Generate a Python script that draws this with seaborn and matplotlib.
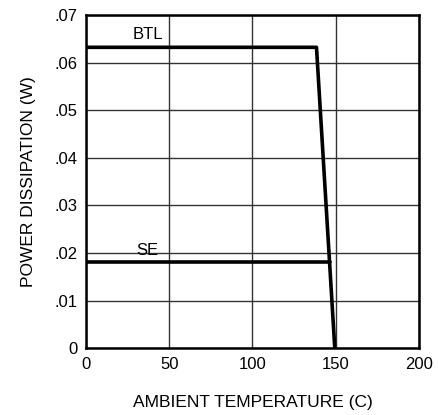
import matplotlib
matplotlib.use("Agg")
import matplotlib.pyplot as plt
import seaborn as sns
import pandas as pd

# Data
btl_temp = [0, 138.5, 149.5]
btl_power = [0.0632, 0.0632, 0.0]
se_temp = [0, 146.4]
se_power = [0.0181, 0.0181]
x_ticks = [0, 50, 100, 150, 200]
y_ticks = [0, 0.01, 0.02, 0.03, 0.04, 0.05, 0.06, 0.07]
y_tick_labels = ["0", ".01", ".02", ".03", ".04", ".05", ".06", ".07"]

sns.set_style("white")
plt.rcParams['font.family'] = ['Liberation Sans', 'DejaVu Sans']
plt.rcParams['text.color'] = 'black'
plt.rcParams['axes.labelcolor'] = 'black'
plt.rcParams['xtick.color'] = 'black'
plt.rcParams['ytick.color'] = 'black'

fig = plt.figure(figsize=(4.39, 4.15), dpi=100)
ax = fig.add_axes([0.196, 0.161, 0.758, 0.803])

df_btl = pd.DataFrame({"t": btl_temp, "p": btl_power})
df_se = pd.DataFrame({"t": se_temp, "p": se_power})
sns.lineplot(data=df_btl, x="t", y="p", ax=ax, color="black", linewidth=2.6, sort=False, zorder=3)
sns.lineplot(data=df_se, x="t", y="p", ax=ax, color="black", linewidth=2.6, sort=False, zorder=3)

ax.text(37, 0.0643, "BTL", ha="center", va="bottom", fontsize=12, color="black")
ax.text(37, 0.0190, "SE", ha="center", va="bottom", fontsize=12, color="black")

ax.set_xlim(0, 200)
ax.set_ylim(0, 0.07)
ax.set_xticks(x_ticks)
ax.set_xticklabels([str(v) for v in x_ticks], fontsize=12)
ax.set_yticks(y_ticks)
ax.set_yticklabels(y_tick_labels, fontsize=12)
ax.tick_params(length=0, pad=6, colors="black")
ax.grid(True, color="#333333", linewidth=1.0)
ax.set_axisbelow(True)
for s in ax.spines.values():
    s.set_color("black")
    s.set_linewidth(1.8)

ax.set_xlabel("AMBIENT TEMPERATURE (C)", fontsize=12.5, labelpad=17, color="black")
ax.set_ylabel("POWER DISSIPATION (W)", fontsize=12.5, labelpad=13.5, color="black")

fig.savefig("out.png", dpi=100)
